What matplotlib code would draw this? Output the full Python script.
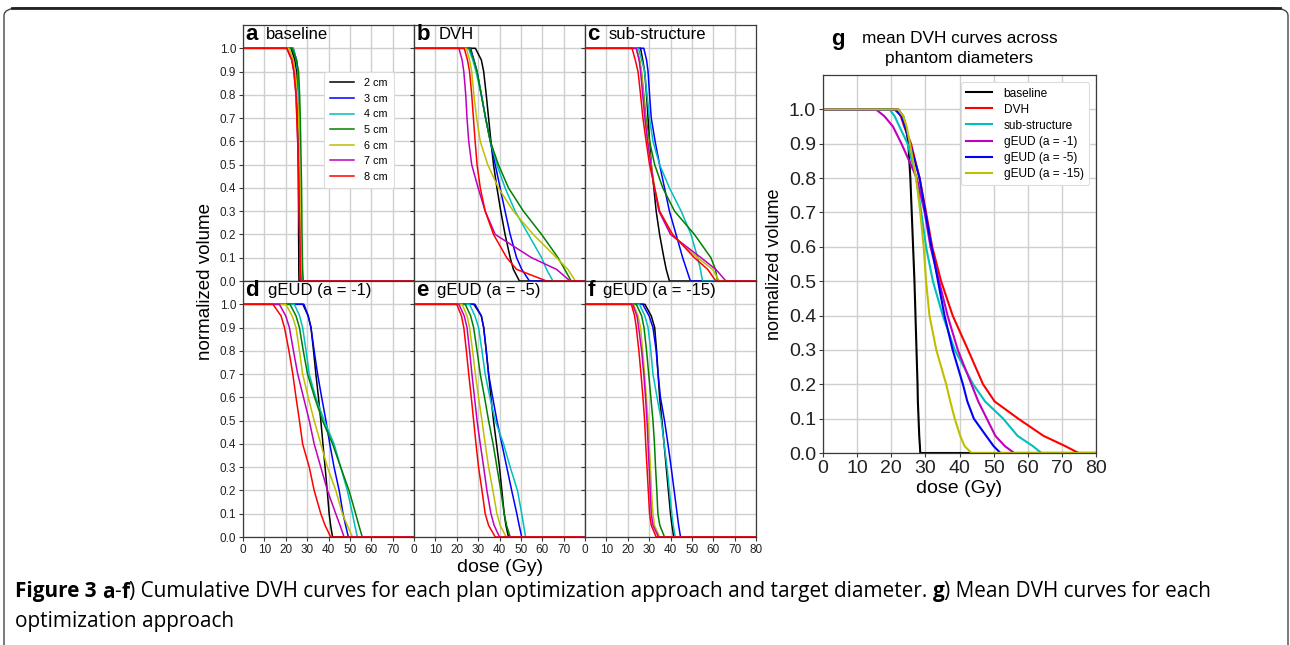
import matplotlib
matplotlib.use('Agg')
import matplotlib.pyplot as plt
from matplotlib.patches import FancyBboxPatch
from matplotlib.lines import Line2D

# ----------------------------------- DATA ----------------------------------- #
# volume levels at which the dose of every curve was read off the figure
LEVELS = [1.0, 0.95, 0.9, 0.8, 0.7, 0.6, 0.5, 0.4, 0.3, 0.2, 0.1, 0.05, 0.0]

DIAMETERS = ['2 cm', '3 cm', '4 cm', '5 cm', '6 cm', '7 cm', '8 cm']
DIAM_COLORS = ['k', 'b', 'c', 'g', 'y', 'm', 'r']

# dose (Gy) per diameter (2..8 cm) at each of LEVELS
BASELINE_DOSE = [
    [22.5, 24.2, 25.0, 25.5, 25.7, 25.8, 25.9, 25.9, 26.0, 26.0, 26.1, 26.1, 26.2],
    [23.5, 25.0, 25.6, 26.0, 26.3, 26.5, 26.7, 26.8, 26.9, 27.0, 27.2, 27.3, 27.5],
    [23.5, 25.0, 25.7, 26.2, 26.5, 26.7, 26.9, 27.0, 27.1, 27.2, 27.4, 27.5, 27.7],
    [23.0, 25.0, 26.0, 26.5, 26.8, 27.0, 27.2, 27.4, 27.5, 27.6, 27.8, 27.9, 28.2],
    [21.5, 23.5, 24.5, 25.5, 26.0, 26.3, 26.5, 26.7, 26.8, 26.9, 27.0, 27.1, 27.3],
    [20.5, 22.8, 23.8, 24.8, 25.2, 25.6, 25.9, 26.1, 26.3, 26.5, 26.7, 26.8, 27.0],
    [20.5, 22.8, 23.8, 24.8, 25.2, 25.6, 25.9, 26.1, 26.3, 26.5, 26.7, 26.8, 27.1],
]
DVH_DOSE = [
    [28.7, 31.5, 32.6, 33.8, 34.9, 36.0, 37.2, 38.8, 40.6, 42.6, 45.0, 46.5, 49.3],
    [26.5, 28.0, 29.5, 31.5, 33.5, 35.7, 38.0, 40.3, 42.6, 45.0, 48.0, 50.4, 54.0],
    [25.5, 27.5, 29.0, 31.5, 33.5, 35.7, 38.8, 42.6, 47.3, 53.5, 59.7, 62.0, 65.0],
    [26.0, 28.0, 29.5, 31.5, 33.5, 35.7, 39.5, 44.2, 51.2, 59.7, 67.4, 70.5, 73.5],
    [24.5, 26.0, 27.0, 28.0, 29.3, 31.0, 34.5, 39.5, 46.5, 55.8, 66.7, 72.0, 75.5],
    [21.0, 22.5, 23.3, 24.2, 24.8, 25.6, 27.0, 30.0, 33.3, 38.0, 55.0, 66.7, 73.0],
    [23.5, 25.0, 26.0, 27.0, 27.8, 28.6, 29.5, 31.0, 33.3, 37.2, 43.4, 48.0, 62.0],
]
SUBSTRUCT_DOSE = [
    [26.0, 27.0, 27.9, 28.8, 29.5, 30.2, 31.0, 32.2, 33.3, 34.9, 36.9, 38.0, 39.5],
    [27.5, 28.8, 29.5, 30.2, 31.0, 32.8, 34.9, 37.2, 39.5, 42.6, 45.7, 47.5, 49.3],
    [25.0, 26.5, 27.9, 29.0, 30.2, 31.8, 34.9, 39.5, 45.0, 49.6, 52.7, 54.0, 55.0],
    [24.0, 25.5, 26.4, 27.5, 28.5, 30.2, 32.6, 36.4, 41.9, 51.2, 58.9, 61.0, 62.0],
    [24.0, 25.5, 26.4, 27.3, 28.2, 29.5, 31.0, 32.6, 34.9, 40.3, 52.7, 59.7, 62.8],
    [24.0, 25.3, 26.0, 27.0, 28.0, 29.3, 30.8, 32.4, 34.6, 40.0, 54.3, 61.2, 65.9],
    [22.0, 23.5, 24.8, 26.0, 27.1, 28.6, 30.2, 32.6, 34.9, 41.0, 51.2, 57.4, 61.2],
]
GEUD1_DOSE = [
    [28.0, 30.5, 31.8, 33.0, 34.1, 35.3, 36.4, 37.4, 38.4, 39.4, 40.3, 41.0, 41.9],
    [28.5, 30.5, 31.8, 33.3, 34.9, 36.8, 38.8, 40.6, 42.6, 45.0, 46.8, 48.0, 49.3],
    [24.0, 26.5, 27.9, 29.5, 31.0, 34.0, 38.0, 42.6, 45.7, 48.8, 51.2, 52.3, 53.5],
    [22.0, 24.8, 26.4, 28.2, 30.2, 33.5, 37.2, 41.9, 45.7, 49.6, 52.7, 54.2, 55.8],
    [20.0, 23.0, 24.8, 26.4, 27.9, 30.5, 33.3, 36.4, 39.5, 43.4, 46.5, 48.8, 51.2],
    [17.0, 20.0, 21.7, 23.6, 25.6, 28.3, 31.0, 33.3, 36.4, 39.5, 43.4, 45.4, 47.3],
    [14.0, 17.8, 19.4, 21.5, 23.3, 24.8, 26.4, 27.9, 31.0, 33.3, 36.4, 38.4, 41.0],
]
GEUD5_DOSE = [
    [28.0, 31.5, 32.6, 33.8, 34.9, 36.0, 37.2, 38.6, 40.0, 41.1, 42.2, 43.0, 44.2],
    [28.5, 31.5, 32.6, 33.8, 34.9, 36.8, 38.8, 41.1, 43.4, 45.7, 48.1, 49.2, 50.4],
    [26.0, 28.5, 30.2, 31.8, 33.3, 35.5, 38.0, 41.9, 45.0, 48.4, 50.4, 51.3, 52.2],
    [24.0, 26.5, 27.9, 29.5, 31.0, 33.0, 34.9, 37.0, 38.8, 40.6, 42.2, 43.3, 45.0],
    [22.5, 24.8, 26.0, 27.4, 28.7, 30.2, 31.8, 33.3, 34.9, 36.9, 38.8, 40.3, 43.1],
    [21.0, 23.5, 24.8, 26.0, 27.1, 28.3, 29.5, 31.0, 32.6, 34.1, 36.0, 37.5, 40.0],
    [20.0, 22.2, 23.3, 24.5, 25.6, 26.8, 27.9, 29.0, 30.2, 31.8, 33.3, 34.9, 38.0],
]
GEUD15_DOSE = [
    [28.0, 31.0, 32.6, 33.5, 34.2, 34.9, 36.0, 37.0, 38.0, 39.0, 40.0, 40.7, 41.5],
    [27.0, 30.0, 31.8, 33.3, 34.2, 35.3, 37.2, 38.8, 40.3, 41.7, 43.1, 43.8, 44.7],
    [25.5, 28.0, 29.5, 30.8, 31.8, 33.7, 35.7, 37.0, 38.4, 39.5, 40.6, 41.3, 42.2],
    [24.0, 26.5, 27.6, 28.8, 29.8, 30.8, 31.8, 32.5, 33.0, 33.6, 34.1, 35.0, 37.2],
    [22.7, 24.8, 26.0, 27.0, 27.9, 28.7, 29.5, 30.0, 30.6, 31.1, 31.8, 32.5, 34.9],
    [22.3, 24.3, 25.1, 26.5, 27.5, 28.3, 29.0, 29.5, 30.0, 30.5, 31.0, 31.8, 34.4],
    [21.7, 23.2, 24.0, 25.2, 26.2, 27.1, 27.9, 28.4, 29.0, 29.6, 30.2, 31.0, 33.3],
]

PANEL_LETTERS = ['a', 'b', 'c', 'd', 'e', 'f']
PANEL_NAMES = ['baseline', 'DVH', 'sub-structure',
               'gEUD (a = -1)', 'gEUD (a = -5)', 'gEUD (a = -15)']
PANEL_DOSES = [BASELINE_DOSE, DVH_DOSE, SUBSTRUCT_DOSE,
               GEUD1_DOSE, GEUD5_DOSE, GEUD15_DOSE]

# panel g: mean curves across diameters
MEAN_LEVELS = [1.0, 0.98, 0.95, 0.9, 0.8, 0.7, 0.6, 0.5, 0.4, 0.3, 0.2, 0.15, 0.1, 0.05, 0.02, 0.0]
MEAN_NAMES = ['baseline', 'DVH', 'sub-structure', 'gEUD (a = -1)', 'gEUD (a = -5)', 'gEUD (a = -15)']
MEAN_COLORS = ['k', 'r', 'c', 'm', 'b', 'y']
MEAN_DOSE = [
    [22.0, 23.5, 24.3, 25.0, 25.6, 26.0, 26.4, 26.8, 27.1, 27.4, 27.7, 27.8, 28.0, 28.2, 28.4, 28.5],
    [21.5, 22.8, 23.8, 25.8, 28.3, 30.2, 32.0, 34.6, 38.0, 42.5, 46.9, 50.3, 57.2, 64.6, 71.0, 74.9],
    [19.5, 21.0, 22.4, 24.8, 27.3, 28.8, 30.2, 32.2, 35.1, 38.6, 44.0, 47.5, 52.8, 57.0, 61.5, 64.0],
    [15.5, 18.0, 20.5, 23.0, 27.5, 29.8, 31.5, 34.0, 36.5, 39.5, 43.5, 45.5, 48.0, 50.5, 53.3, 56.0],
    [21.0, 23.0, 24.0, 25.5, 28.3, 30.0, 31.8, 33.7, 35.6, 38.0, 41.0, 42.3, 44.2, 47.8, 50.0, 52.0],
    [22.0, 23.5, 24.5, 25.5, 27.3, 28.5, 29.5, 30.2, 31.2, 33.2, 36.1, 37.3, 38.6, 40.2, 41.5, 43.5],
]

CAPTION_1 = [('Figure 3 ', 'bold'), ('a', 'bold'), ('-', 'normal'), ('f', 'bold'),
             (') Cumulative DVH curves for each plan optimization approach and target diameter. ', 'normal'),
             ('g', 'bold'), (') Mean DVH curves for each', 'normal')]
CAPTION_2 = 'optimization approach'

W, H = 1290, 645
GRID_COLOR = '#cfcfcf'
SPINE_COLOR = '#3a3a3a'
CAP_SIZE = 14.95


def curve(doses, levels):
    # flat at 1.0 from 0 Gy, flat at 0.0 up to 80 Gy
    return [0.0] + list(doses) + [80.0], [1.0] + list(levels) + [0.0]


def style_axes(ax, labelsize):
    ax.set_xlim(0, 80)
    ax.set_ylim(0, 1.1)
    ax.set_yticks([i / 10 for i in range(11)])
    ax.grid(True, color=GRID_COLOR, linewidth=1.0)
    ax.set_axisbelow(True)
    for s in ax.spines.values():
        s.set_color(SPINE_COLOR)
        s.set_linewidth(0.9)
    ax.tick_params(direction='out', length=3, width=0.8, labelsize=labelsize,
                   colors=SPINE_COLOR, labelcolor='#222222', pad=2)


def style_legend(leg):
    leg.get_frame().set_edgecolor('#dddddd')
    leg.get_frame().set_linewidth(0.8)


# --------------------------------- FIGURE ---------------------------------- #
plt.rcParams['font.family'] = ['Liberation Sans', 'DejaVu Sans']
fig = plt.figure(figsize=(W / 100, H / 100), dpi=100)

# page frame with rounded corners
frame = FancyBboxPatch((4 / W, -20 / H), 1284 / W, (H - 8 + 20) / H,
                       boxstyle='round,pad=0,rounding_size=0.012',
                       transform=fig.transFigure, fill=False,
                       edgecolor='#444444', linewidth=1.0)
fig.patches.append(frame)
fig.add_artist(Line2D([12 / W, 1280 / W], [1 - 8 / H, 1 - 8 / H],
                      transform=fig.transFigure, color='#222222', linewidth=2.0))

# panels a-f
px0, pw = 243 / W, 171 / W
row_bottoms = [1 - 281 / H, 1 - 537 / H]
ph = 256 / H

for i in range(6):
    r, c = divmod(i, 3)
    ax = fig.add_axes([px0 + c * pw, row_bottoms[r], pw, ph])
    style_axes(ax, 8.5)
    for d in range(7):
        x, y = curve(PANEL_DOSES[i][d], LEVELS)
        ax.plot(x, y, color=DIAM_COLORS[d], linewidth=1.1, label=DIAMETERS[d])
    if i == 5:
        ax.set_xticks(range(0, 81, 10))
    else:
        ax.set_xticks(range(0, 80, 10))
    if c != 0:
        ax.tick_params(labelleft=False)
    if r == 0:
        ax.tick_params(labelbottom=False, bottom=False)
    ltr = ax.text(0.015, 0.962, PANEL_LETTERS[i], transform=ax.transAxes,
                  fontsize=16, fontweight='bold', ha='left', va='center')
    ax.annotate(PANEL_NAMES[i], xy=(1, 0.5), xycoords=ltr, xytext=(6, 0),
                textcoords='offset points', fontsize=12, ha='left', va='center')
    if i == 0:
        leg = ax.legend(loc='upper right', bbox_to_anchor=(0.883, 0.816), fontsize=7.8,
                        handlelength=2.2, labelspacing=0.52, borderpad=0.55,
                        borderaxespad=0, handletextpad=1.0, fancybox=True,
                        framealpha=1.0)
        style_legend(leg)

fig.text(205 / W, 1 - 281 / H, 'normalized volume', rotation=90, fontsize=13.5,
         ha='center', va='center')
fig.text(500 / W, 1 - 567 / H, 'dose (Gy)', fontsize=14, ha='center', va='center')

# panel g
axg = fig.add_axes([823 / W, 1 - 453 / H, 273 / W, 378 / H])
style_axes(axg, 14)
axg.set_xticks(range(0, 81, 10))
for k in range(6):
    x, y = curve(MEAN_DOSE[k], MEAN_LEVELS)
    axg.plot(x, y, color=MEAN_COLORS[k], linewidth=1.5, label=MEAN_NAMES[k])
legg = axg.legend(loc='upper right', fontsize=8.6, handlelength=2.1, labelspacing=0.34,
                  borderpad=0.45, borderaxespad=0, handletextpad=1.0, fancybox=True,
                  framealpha=1.0, bbox_to_anchor=(0.974, 0.981))
style_legend(legg)
axg.set_ylabel('normalized volume', fontsize=13, labelpad=4)
axg.set_xlabel('dose (Gy)', fontsize=14, labelpad=2)
axg.set_title('mean DVH curves across\nphantom diameters', fontsize=12.4, pad=9,
              linespacing=1.35)
fig.text(838 / W, 1 - 40 / H, 'g', fontsize=16, fontweight='bold',
         ha='center', va='center')

# caption, mixed bold / regular pieces chained one after another
prev = fig.text(15 / W, 1 - 592 / H, CAPTION_1[0][0], fontsize=CAP_SIZE,
                fontweight=CAPTION_1[0][1], family='Open Sans', va='center', ha='left')
for txt, wt in CAPTION_1[1:]:
    prev = axg.annotate(txt, xy=(1, 0), xycoords=prev, fontsize=CAP_SIZE, fontweight=wt,
                        family='Open Sans', va='bottom', ha='left',
                        annotation_clip=False)
fig.text(15 / W, 1 - 622 / H, CAPTION_2, fontsize=CAP_SIZE, family='Open Sans',
         va='center', ha='left')

fig.savefig('out.png', dpi=100)
